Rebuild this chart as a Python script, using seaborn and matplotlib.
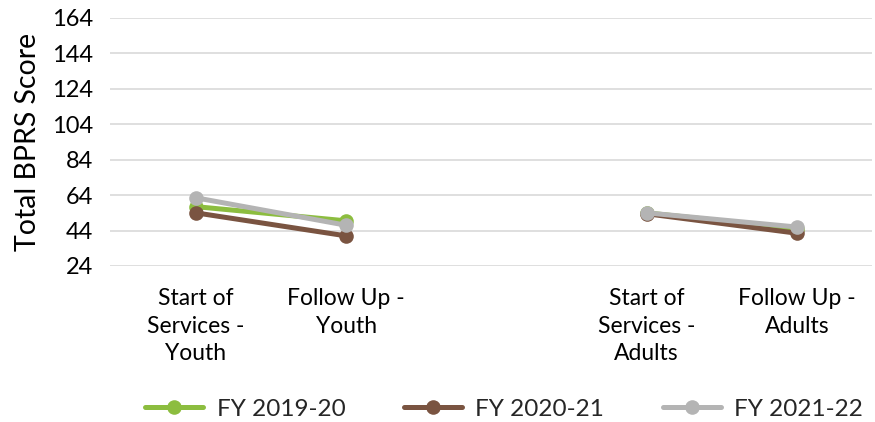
import numpy as np
import pandas as pd
import matplotlib
matplotlib.use("Agg")
import matplotlib.pyplot as plt
import seaborn as sns

categories = ["Start of\nServices -\nYouth", "Follow Up -\nYouth", "",
              "Start of\nServices -\nAdults", "Follow Up -\nAdults"]
series = ["FY 2019-20", "FY 2020-21", "FY 2021-22"]
fy1920 = [57.5, 49.5, np.nan, 54, 45]
fy2021 = [54, 41, np.nan, 53.5, 42.5]
fy2122 = [62.5, 47, np.nan, 54, 46]
colors = ["#8CBD3F", "#7A5441", "#B4B4B4"]

rows = []
for name, vals in zip(series, [fy1920, fy2021, fy2122]):
    for i, v in enumerate(vals):
        if not np.isnan(v):
            rows.append({"x": i, "score": v, "fy": name, "seg": 0 if i < 2 else 1})
df = pd.DataFrame(rows)

sns.set_style("white")
plt.rcParams["font.family"] = ["Lato", "DejaVu Sans"]

fig = plt.figure(figsize=(8.75, 4.22), dpi=100)
ax = fig.add_axes([110 / 875, 1 - 266 / 422, 762 / 875, 248 / 422])

sns.lineplot(data=df, x="x", y="score", hue="fy", units="seg", estimator=None,
             palette=colors, hue_order=series, marker="o", markersize=10.5,
             markeredgewidth=0, linewidth=3.6, ax=ax, sort=False, legend=True)

ax.set_xlim(-0.572, 4.5)
ax.set_ylim(24, 164)
ax.set_yticks(range(24, 165, 20))
ax.set_xticks(range(5))
ax.set_xticklabels(categories, fontsize=16.5, color="#000000", linespacing=1.38)
ax.tick_params(axis="y", labelsize=17, labelcolor="#000000", length=0, pad=12)
ax.tick_params(axis="x", length=0, pad=16)
ax.yaxis.grid(True, color="#D9D9D9", linewidth=1.2)
for s in ax.spines.values():
    s.set_visible(False)
ax.set_xlabel("")
ax.set_ylabel("Total BPRS Score", fontsize=20.5, labelpad=8, color="#000000")

handles, labels = ax.get_legend_handles_labels()
ax.get_legend().remove()
fig.legend(handles, labels, loc="center", bbox_to_anchor=(504 / 875, 1 - 409 / 422),
           ncol=3, frameon=False, fontsize=17.5, handlelength=2.4,
           columnspacing=2.4, handletextpad=0.55)

fig.savefig("out.png", dpi=100)
